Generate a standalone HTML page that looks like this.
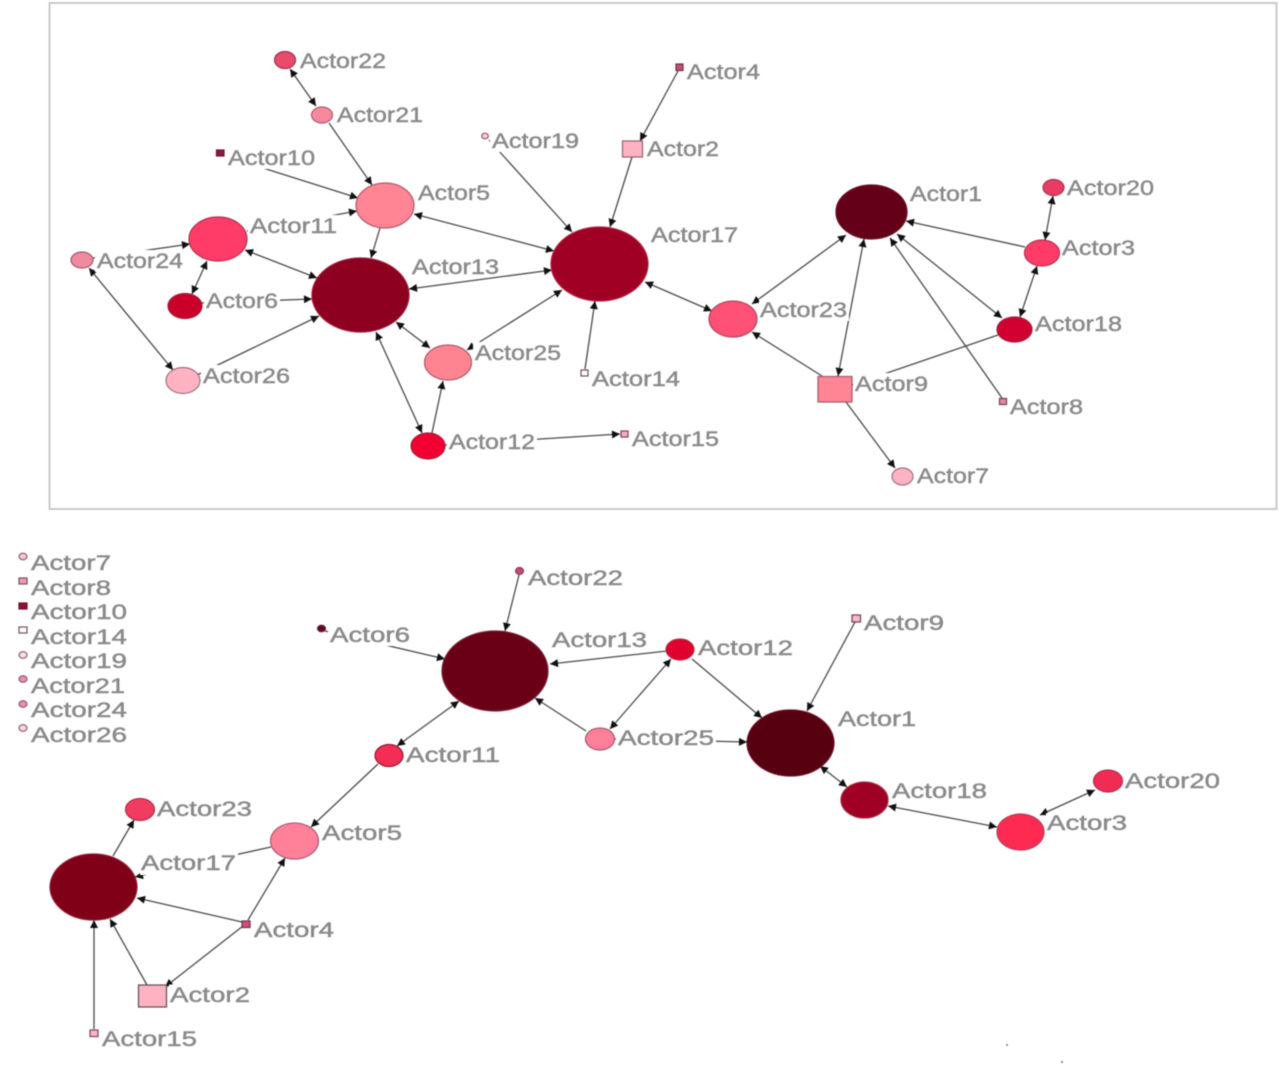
<!DOCTYPE html>
<html><head><meta charset="utf-8"><style>
html,body{margin:0;padding:0;background:#fff;width:1280px;height:1066px;overflow:hidden}
svg{display:block;filter:blur(.4px)}
.e line{stroke:#4a4a4a;stroke-width:1.3}
.b line{marker-start:url(#a);marker-end:url(#a)}
.f line{marker-end:url(#a)}
text{font-family:"Liberation Sans",sans-serif;font-size:21px;fill:#8a8a8a;stroke:#8a8a8a;stroke-width:.45px}
.n ellipse,.n rect{stroke-width:1.2}
</style></head><body>
<svg width="1280" height="1066" viewBox="0 0 1280 1066" xmlns="http://www.w3.org/2000/svg">
<defs><marker id="a" viewBox="0 0 10 10" refX="10" refY="5" markerWidth="9" markerHeight="8" markerUnits="userSpaceOnUse" orient="auto-start-reverse"><path d="M0 0L10 5L0 10Z" fill="#111"/></marker></defs>
<rect x="49.5" y="3" width="1227" height="506" fill="#fff" stroke="#cacaca" stroke-width="2"/>

<g class="e f">
<line x1="329" y1="123" x2="372" y2="185"/><line x1="228" y1="157" x2="358" y2="198"/><line x1="247" y1="231" x2="357" y2="211"/>
<line x1="380" y1="228" x2="371" y2="258"/><line x1="489" y1="140" x2="572" y2="232"/><line x1="678" y1="71" x2="640" y2="141"/>
<line x1="632" y1="157" x2="610" y2="227"/><line x1="93" y1="258" x2="190" y2="244"/><line x1="202" y1="303" x2="312" y2="299"/>
<line x1="197" y1="375" x2="319" y2="316"/><line x1="432" y1="433" x2="443" y2="381"/><line x1="445" y1="445" x2="620" y2="434"/>
<line x1="585" y1="369" x2="595" y2="301"/><line x1="822" y1="376" x2="752" y2="332"/><line x1="846" y1="402" x2="895" y2="468"/>
<line x1="998" y1="335" x2="852" y2="385"/><line x1="1002" y1="398" x2="890" y2="238"/><line x1="1025" y1="247" x2="906" y2="221"/>
<line x1="519" y1="575" x2="505" y2="631"/><line x1="325" y1="631" x2="445" y2="659"/><line x1="667" y1="651" x2="550" y2="664"/>
<line x1="586" y1="731" x2="535" y2="698"/><line x1="378" y1="764" x2="311" y2="827"/><line x1="271" y1="847" x2="135" y2="877"/>
<line x1="248" y1="920" x2="285" y2="858"/><line x1="242" y1="922" x2="137" y2="898"/><line x1="147" y1="985" x2="110" y2="919"/>
<line x1="94" y1="1029" x2="94" y2="920"/><line x1="113" y1="856" x2="134" y2="820"/><line x1="692" y1="659" x2="762" y2="718"/>
<line x1="855" y1="622" x2="807" y2="711"/><line x1="614" y1="739" x2="747" y2="742"/>
<line x1="243" y1="926" x2="165" y2="987"/>
</g>
<g class="e b">
<line x1="290" y1="69" x2="316" y2="106"/><line x1="414" y1="214" x2="554" y2="251"/><line x1="245" y1="250" x2="317" y2="278"/>
<line x1="207" y1="261" x2="192" y2="294"/><line x1="89" y1="268" x2="173" y2="370"/><line x1="409" y1="289" x2="552" y2="270"/>
<line x1="396" y1="322" x2="430" y2="348"/><line x1="467" y1="350" x2="562" y2="290"/><line x1="376" y1="332" x2="422" y2="433"/>
<line x1="645" y1="282" x2="712" y2="311"/><line x1="752" y1="304" x2="846" y2="235"/><line x1="838" y1="376" x2="864" y2="239"/>
<line x1="897" y1="234" x2="1002" y2="318"/><line x1="1045" y1="240" x2="1053" y2="196"/><line x1="1037" y1="266" x2="1020" y2="317"/>
<line x1="610" y1="729" x2="671" y2="659"/><line x1="397" y1="746" x2="459" y2="701"/>
<line x1="820" y1="766" x2="847" y2="787"/><line x1="888" y1="806" x2="997" y2="827"/><line x1="1040" y1="815" x2="1095" y2="790"/>
</g>

<g fill="#fff">
<rect x="226" y="147" width="91" height="22"/>
<rect x="490" y="130" width="91" height="22"/>
<rect x="248" y="215" width="91" height="22"/>
<rect x="95" y="250" width="90" height="22"/>
<rect x="204" y="290" width="76" height="22"/>
<rect x="201" y="365" width="91" height="22"/>
<rect x="473" y="342" width="90" height="22"/>
<rect x="447" y="431" width="90" height="22"/>
<rect x="759" y="299" width="90" height="22"/>
<rect x="853" y="373" width="77" height="22"/>
<rect x="328" y="624" width="84" height="22"/>
<rect x="616" y="727" width="100" height="22"/>
<rect x="405" y="744.5" width="97" height="22"/>
<rect x="140" y="853" width="98" height="22"/>
<rect x="169" y="984.5" width="83" height="22"/>
<rect x="1046" y="813" width="83" height="22"/>
</g>

<g>
<text x="300" y="68" textLength="86" lengthAdjust="spacingAndGlyphs">Actor22</text>
<text x="337" y="122" textLength="86" lengthAdjust="spacingAndGlyphs">Actor21</text>
<text x="228" y="165" textLength="87" lengthAdjust="spacingAndGlyphs">Actor10</text>
<text x="492" y="148" textLength="87" lengthAdjust="spacingAndGlyphs">Actor19</text>
<text x="418" y="200" textLength="72" lengthAdjust="spacingAndGlyphs">Actor5</text>
<text x="250" y="233" textLength="87" lengthAdjust="spacingAndGlyphs">Actor11</text>
<text x="97" y="268" textLength="86" lengthAdjust="spacingAndGlyphs">Actor24</text>
<text x="206" y="308" textLength="72" lengthAdjust="spacingAndGlyphs">Actor6</text>
<text x="412" y="274" textLength="87" lengthAdjust="spacingAndGlyphs">Actor13</text>
<text x="203" y="383" textLength="87" lengthAdjust="spacingAndGlyphs">Actor26</text>
<text x="475" y="360" textLength="86" lengthAdjust="spacingAndGlyphs">Actor25</text>
<text x="449" y="449" textLength="86" lengthAdjust="spacingAndGlyphs">Actor12</text>
<text x="592" y="386" textLength="88" lengthAdjust="spacingAndGlyphs">Actor14</text>
<text x="632" y="446" textLength="87" lengthAdjust="spacingAndGlyphs">Actor15</text>
<text x="651" y="242" textLength="87" lengthAdjust="spacingAndGlyphs">Actor17</text>
<text x="647" y="156" textLength="72" lengthAdjust="spacingAndGlyphs">Actor2</text>
<text x="687" y="79" textLength="73" lengthAdjust="spacingAndGlyphs">Actor4</text>
<text x="910" y="201" textLength="72" lengthAdjust="spacingAndGlyphs">Actor1</text>
<text x="1067" y="195" textLength="87" lengthAdjust="spacingAndGlyphs">Actor20</text>
<text x="1062" y="255" textLength="73" lengthAdjust="spacingAndGlyphs">Actor3</text>
<text x="1035" y="331" textLength="87" lengthAdjust="spacingAndGlyphs">Actor18</text>
<text x="760" y="317" textLength="87" lengthAdjust="spacingAndGlyphs">Actor23</text>
<text x="855" y="391" textLength="73" lengthAdjust="spacingAndGlyphs">Actor9</text>
<text x="1010" y="414" textLength="73" lengthAdjust="spacingAndGlyphs">Actor8</text>
<text x="917" y="483" textLength="72" lengthAdjust="spacingAndGlyphs">Actor7</text>

<text x="31" y="570" textLength="80" lengthAdjust="spacingAndGlyphs">Actor7</text>
<text x="31" y="595" textLength="80" lengthAdjust="spacingAndGlyphs">Actor8</text>
<text x="31" y="619" textLength="96" lengthAdjust="spacingAndGlyphs">Actor10</text>
<text x="31" y="644" textLength="96" lengthAdjust="spacingAndGlyphs">Actor14</text>
<text x="31" y="668" textLength="96" lengthAdjust="spacingAndGlyphs">Actor19</text>
<text x="31" y="693" textLength="94" lengthAdjust="spacingAndGlyphs">Actor21</text>
<text x="31" y="717" textLength="96" lengthAdjust="spacingAndGlyphs">Actor24</text>
<text x="31" y="742" textLength="96" lengthAdjust="spacingAndGlyphs">Actor26</text>
<text x="528" y="585" textLength="95" lengthAdjust="spacingAndGlyphs">Actor22</text>
<text x="330" y="642" textLength="80" lengthAdjust="spacingAndGlyphs">Actor6</text>
<text x="552" y="647" textLength="95" lengthAdjust="spacingAndGlyphs">Actor13</text>
<text x="698" y="655" textLength="95" lengthAdjust="spacingAndGlyphs">Actor12</text>
<text x="864" y="630" textLength="80" lengthAdjust="spacingAndGlyphs">Actor9</text>
<text x="838" y="726" textLength="78" lengthAdjust="spacingAndGlyphs">Actor1</text>
<text x="618" y="745" textLength="96" lengthAdjust="spacingAndGlyphs">Actor25</text>
<text x="406" y="762" textLength="94" lengthAdjust="spacingAndGlyphs">Actor11</text>
<text x="157" y="816" textLength="95" lengthAdjust="spacingAndGlyphs">Actor23</text>
<text x="322" y="840" textLength="80" lengthAdjust="spacingAndGlyphs">Actor5</text>
<text x="141" y="870" textLength="95" lengthAdjust="spacingAndGlyphs">Actor17</text>
<text x="254" y="937" textLength="80" lengthAdjust="spacingAndGlyphs">Actor4</text>
<text x="170" y="1002" textLength="80" lengthAdjust="spacingAndGlyphs">Actor2</text>
<text x="102" y="1046" textLength="95" lengthAdjust="spacingAndGlyphs">Actor15</text>
<text x="892" y="798" textLength="95" lengthAdjust="spacingAndGlyphs">Actor18</text>
<text x="1125" y="788" textLength="95" lengthAdjust="spacingAndGlyphs">Actor20</text>
<text x="1047" y="830" textLength="80" lengthAdjust="spacingAndGlyphs">Actor3</text>
</g>

<g class="n">
<ellipse cx="285" cy="60" rx="10.5" ry="8.5" fill="#ea4a6c" stroke="#a03050"/>
<ellipse cx="322" cy="115" rx="10.5" ry="8" fill="#f58a9e" stroke="#b05a70"/>
<rect x="216.5" y="150" width="7.5" height="6" fill="#8c1a3a" stroke="#701030"/>
<ellipse cx="485" cy="136" rx="3.3" ry="2.8" fill="#f8d0d8" stroke="#905068"/>
<ellipse cx="385" cy="205.5" rx="29" ry="22.5" fill="#ff8494" stroke="#b05a6c"/>
<ellipse cx="218" cy="239" rx="29" ry="22" fill="#ff3c68" stroke="#b03050"/>
<ellipse cx="82" cy="260" rx="11" ry="8" fill="#f08a9e" stroke="#a05a70"/>
<ellipse cx="185" cy="306" rx="17" ry="12.5" fill="#c8002a" stroke="#a0203c"/>
<ellipse cx="360.5" cy="295" rx="48.5" ry="37" fill="#8e0020" stroke="#a01838"/>
<ellipse cx="183" cy="380.5" rx="17" ry="13" fill="#ffb2c2" stroke="#a07080"/>
<ellipse cx="448" cy="362.5" rx="23.5" ry="17.5" fill="#ff8492" stroke="#b05a6c"/>
<ellipse cx="428" cy="446" rx="17" ry="13" fill="#f20032" stroke="#a02040"/>
<rect x="621" y="431" width="7" height="6" fill="#f0b0c0" stroke="#804058"/>
<rect x="581" y="370" width="7" height="6" fill="#fff" stroke="#705060"/>
<ellipse cx="599.5" cy="264" rx="48.5" ry="37" fill="#a00024" stroke="#b02040"/>
<rect x="622.5" y="141" width="20" height="16" fill="#ffb2c2" stroke="#906070"/>
<rect x="676" y="64" width="7" height="6.5" fill="#c05078" stroke="#703048"/>
<ellipse cx="871.5" cy="212" rx="35.5" ry="27" fill="#640018" stroke="#6a1028"/>
<ellipse cx="1053.5" cy="187.5" rx="10.5" ry="8" fill="#e83c64" stroke="#b03050"/>
<ellipse cx="1042" cy="253" rx="17.5" ry="13" fill="#ff3c68" stroke="#b03050"/>
<ellipse cx="1014.5" cy="329.5" rx="17.5" ry="12.5" fill="#d20030" stroke="#a02040"/>
<ellipse cx="733" cy="319" rx="24" ry="18" fill="#ff5076" stroke="#b04860"/>
<rect x="818" y="376.5" width="34" height="25.5" fill="#ff8494" stroke="#a05a6c"/>
<rect x="999.5" y="398.5" width="7" height="6" fill="#e08aa0" stroke="#704050"/>
<ellipse cx="902.5" cy="476.5" rx="10.5" ry="8.5" fill="#ffb2c2" stroke="#a07080"/>

<ellipse cx="23" cy="556.5" rx="4" ry="3.3" fill="#f4c8d0" stroke="#905a6c"/>
<rect x="19" y="578" width="8" height="6" fill="#e8a0b0" stroke="#804a60"/>
<rect x="19" y="603" width="8" height="6" fill="#8c1030" stroke="#701030"/>
<rect x="19" y="627" width="8" height="6" fill="#fff" stroke="#705060"/>
<ellipse cx="23" cy="655" rx="4" ry="3.3" fill="#fbe0e4" stroke="#905a6c"/>
<ellipse cx="23" cy="679" rx="4" ry="3.3" fill="#e890a4" stroke="#905a6c"/>
<ellipse cx="23" cy="704" rx="4" ry="3.3" fill="#e890a4" stroke="#905a6c"/>
<ellipse cx="23" cy="728" rx="4" ry="3.3" fill="#fbd8e0" stroke="#905a6c"/>
<ellipse cx="519.5" cy="571" rx="4" ry="3.5" fill="#c84a70" stroke="#804060"/>
<ellipse cx="321.5" cy="628.5" rx="4" ry="3.3" fill="#700020" stroke="#503040"/>
<ellipse cx="495" cy="671" rx="53" ry="40" fill="#6a0016" stroke="#7a2038"/>
<ellipse cx="389" cy="755.5" rx="14" ry="11" fill="#f52c54" stroke="#901a38"/>
<ellipse cx="140" cy="809.5" rx="14.5" ry="11" fill="#f03c60" stroke="#b03050"/>
<ellipse cx="294.5" cy="841" rx="24" ry="18" fill="#ff8098" stroke="#a86078"/>
<ellipse cx="93.5" cy="887" rx="43.5" ry="33" fill="#800018" stroke="#902038"/>
<rect x="242" y="921" width="8" height="6.5" fill="#d84a78" stroke="#703048"/>
<rect x="138.5" y="985" width="28" height="22" fill="#ffb2c2" stroke="#604a50"/>
<rect x="90" y="1030" width="8" height="6.5" fill="#f4b8c8" stroke="#804058"/>
<ellipse cx="600" cy="739" rx="14.5" ry="11" fill="#ff8098" stroke="#a05a70"/>
<ellipse cx="680" cy="649.5" rx="14" ry="10.5" fill="#e00030" stroke="#b03048"/>
<rect x="852" y="615" width="8.5" height="7" fill="#f4b8c8" stroke="#704058"/>
<ellipse cx="790.5" cy="743" rx="43.5" ry="33" fill="#560010" stroke="#701028"/>
<ellipse cx="864.5" cy="800" rx="23.5" ry="18" fill="#a00024" stroke="#a02840"/>
<ellipse cx="1020.5" cy="832" rx="23.5" ry="18" fill="#ff2a52" stroke="#b04060"/>
<ellipse cx="1108" cy="781" rx="14.5" ry="11" fill="#f02c54" stroke="#b03050"/>
</g>
<circle cx="1007" cy="1045" r="1" fill="#777"/>
<circle cx="1062" cy="1062" r="1" fill="#777"/>
</svg>
</body></html>
